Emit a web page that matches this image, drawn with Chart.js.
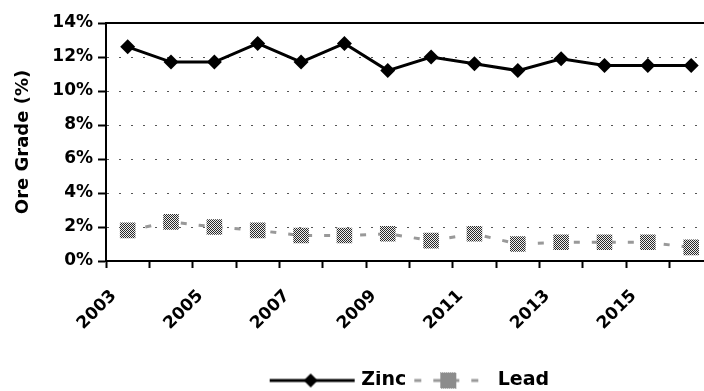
<!DOCTYPE html>
<html>
<head>
<meta charset="utf-8">
<script src="https://cdn.jsdelivr.net/npm/chart.js@4"></script>
<style>
  html, body { margin: 0; padding: 0; background: #fff; overflow: hidden; }
  #wrap { width: 724px; height: 391px; }
</style>
</head>
<body>
<div id="wrap"><canvas id="oreChart"></canvas></div>
<script>

var years = ['2003', '2004', '2005', '2006', '2007', '2008', '2009',
             '2010', '2011', '2012', '2013', '2014', '2015', '2016'];
var zincGrade = [12.6, 11.7, 11.7, 12.8, 11.7, 12.8, 11.2, 12.0, 11.6, 11.2, 11.9, 11.5, 11.5, 11.5];
var leadGrade = [1.8, 2.3, 2.0, 1.8, 1.5, 1.5, 1.6, 1.2, 1.6, 1.0, 1.1, 1.1, 1.1, 0.8];
var yTicks = [0, 2, 4, 6, 8, 10, 12, 14];

// dithered grey, like the old excel fill
function ditherPattern() {
    var c = document.createElement('canvas');
    c.width = 2; c.height = 2;
    var g = c.getContext('2d');
    g.fillStyle = '#eeeeee'; g.fillRect(0, 0, 2, 2);
    g.fillStyle = '#2a2a2a'; g.fillRect(0, 0, 1, 1); g.fillRect(1, 1, 1, 1);
    return g.createPattern(c, 'repeat');
}
var dither = ditherPattern();

// legend symbols (line + marker)
function zincSymbol() {
    var c = document.createElement('canvas');
    c.width = 90; c.height = 16;
    var g = c.getContext('2d');
    g.strokeStyle = '#000'; g.lineWidth = 3;
    g.beginPath(); g.moveTo(4, 8); g.lineTo(89, 8); g.stroke();
    g.fillStyle = '#000';
    g.beginPath(); g.moveTo(45, 1); g.lineTo(52, 8); g.lineTo(45, 15); g.lineTo(38, 8); g.closePath(); g.fill();
    return c;
}
function leadSymbol() {
    var c = document.createElement('canvas');
    c.width = 86; c.height = 20;
    var g = c.getContext('2d');
    g.strokeStyle = '#999'; g.lineWidth = 3;
    g.setLineDash([7, 12]);
    g.beginPath(); g.moveTo(10, 10); g.lineTo(86, 10); g.stroke();
    g.fillStyle = dither;
    g.fillRect(36, 2, 16, 16);
    return c;
}

var topBorder = {
    id: 'topBorder',
    beforeDatasetsDraw: function(chart) {
        var a = chart.chartArea, ctx = chart.ctx;
        ctx.save();
        ctx.strokeStyle = '#000';
        ctx.lineWidth = 2;
        ctx.beginPath();
        ctx.moveTo(a.left, a.top);
        ctx.lineTo(a.right, a.top);
        ctx.stroke();
        ctx.restore();
    }
};

var ctx = document.getElementById('oreChart').getContext('2d');
var oreChart = new Chart(ctx, {
    type: 'line',
    data: {
        labels: years,
        datasets: [{
            label: 'Zinc',
            data: zincGrade,
            borderColor: '#000',
            borderWidth: 3,
            pointStyle: 'rectRot',
            pointRadius: 7.5,
            pointBackgroundColor: '#000',
            pointBorderWidth: 0,
            tension: 0
        }, {
            label: 'Lead',
            data: leadGrade,
            borderColor: '#999',
            borderWidth: 3,
            borderDash: [6, 12],
            pointStyle: 'rect',
            pointRadius: 11,
            pointBackgroundColor: dither,
            pointBorderWidth: 0,
            tension: 0
        }]
    },
    options: {
        responsive: true,
        maintainAspectRatio: false,
        animation: false,
        layout: {
            padding: { left: 13, top: 23, right: 0, bottom: -9 }
        },
        scales: {
            x: {
                offset: true,
                grid: {
                    offset: true,
                    drawOnChartArea: false,
                    tickLength: 7,
                    tickColor: '#000',
                    tickWidth: 2
                },
                border: { color: '#000', width: 2 },
                ticks: {
                    autoSkip: false,
                    maxRotation: 45,
                    minRotation: 45,
                    labelOffset: -14,
                    padding: 18,
                    color: '#000',
                    font: { family: 'DejaVu Sans', weight: 'bold', size: 17 },
                    callback: function(val, i) {
                        return i % 2 === 0 ? this.getLabelForValue(val) : '';
                    }
                },
                afterFit: function(scale) { scale.height = 110; }
            },
            y: {
                min: 0,
                max: 14,
                afterBuildTicks: function(scale) {
                    scale.ticks = yTicks.map(function(v) { return { value: v }; });
                },
                grid: {
                    color: function(c) { return c.tick && c.tick.value > 0 && c.tick.value < 14 ? '#555' : 'rgba(0,0,0,0)'; },
                    lineWidth: 1,
                    tickLength: 8,
                    tickColor: '#000',
                    tickWidth: 2
                },
                border: { color: '#000', width: 2, dash: [2, 10] },
                ticks: {
                    padding: 5,
                    color: '#000',
                    font: { family: 'DejaVu Sans', weight: 'bold', size: 17 },
                    callback: function(v) { return v + '%'; }
                },
                title: {
                    display: true,
                    text: 'Ore Grade (%)',
                    color: '#000',
                    padding: 0,
                    font: { family: 'DejaVu Sans', weight: 'bold', size: 18 }
                },
                afterFit: function(scale) { scale.width = 93; }
            }
        },
        plugins: {
            legend: {
                display: true,
                position: 'bottom',
                fullSize: false,
                labels: {
                    usePointStyle: true,
                    pointStyleWidth: 82,
                    padding: 0,
                    color: '#000',
                    font: { family: 'DejaVu Sans', weight: 'bold', size: 19 },
                    generateLabels: function(chart) {
                        var syms = [zincSymbol(), leadSymbol()];
                        return chart.data.datasets.map(function(ds, i) {
                            return {
                                text: ds.label,
                                pointStyle: syms[i],
                                datasetIndex: i,
                                hidden: false,
                                lineWidth: 0,
                                fontColor: '#000'
                            };
                        });
                    }
                }
            },
            tooltip: { enabled: false }
        }
    },
    plugins: [topBorder]
});

</script>
</body>
</html>
